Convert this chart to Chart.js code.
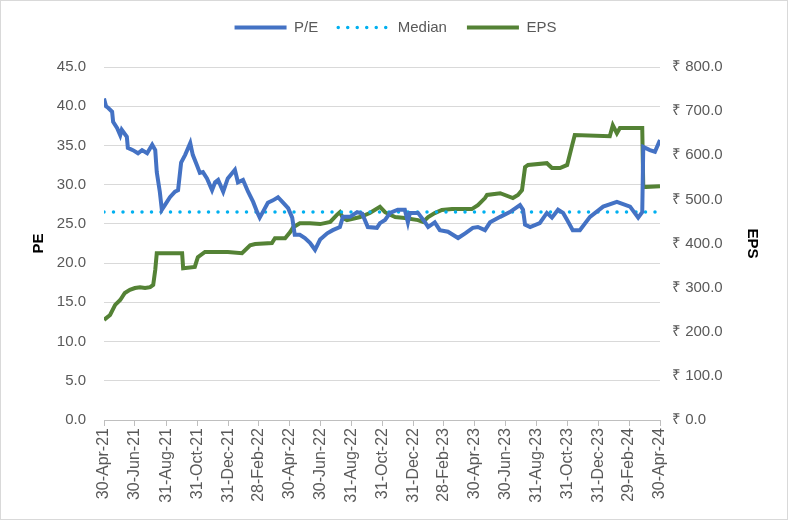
<!DOCTYPE html>
<html>
<head>
<meta charset="utf-8">
<script src="https://cdn.jsdelivr.net/npm/chart.js@4.4.0/dist/chart.umd.min.js"></script>
<style>
  body { margin: 0; background: #fff; }
  #wrap { position: relative; width: 788px; height: 520px; }
  #frame { position: absolute; left: 0; top: 0; width: 788px; height: 520px; box-sizing: border-box; border: 1px solid #d9d9d9; pointer-events: none; }
</style>
</head>
<body>
<div id="wrap">
  <canvas id="myChart" width="788" height="520"></canvas>
  <div id="frame"></div>
</div>
<script>
// x tick labels (month ends, every 2 months)
const tickLabels = ['30-Apr-21', '30-Jun-21', '31-Aug-21', '31-Oct-21', '31-Dec-21', '28-Feb-22',
  '30-Apr-22', '30-Jun-22', '31-Aug-22', '31-Oct-22', '31-Dec-22', '28-Feb-23', '30-Apr-23',
  '30-Jun-23', '31-Aug-23', '31-Oct-23', '31-Dec-23', '29-Feb-24', '30-Apr-24']

// days since 30-Apr-21 for P/E readings
const peDays = [0, 4, 8, 16, 18, 26, 32, 35, 45, 47, 57, 67, 75, 85, 95, 101, 104, 110, 114, 120,
  130, 140, 146, 152, 160, 170, 175, 183, 189, 195, 203, 213, 219, 225, 235, 244, 258, 264, 274, 284,
  294, 302, 307, 313, 323, 333, 343, 353, 363, 371, 376, 386, 396, 406, 416, 426, 440, 451, 465, 471,
  485, 499, 509, 520, 538, 544, 554, 564, 579, 593, 599, 603, 619, 633, 639, 652, 662, 678, 698, 712,
  727, 737, 751, 761, 781, 800, 820, 826, 830, 840, 859, 873, 883, 895, 905, 913, 924, 938, 958, 984,
  1011, 1037, 1053, 1061, 1063, 1076, 1086, 1096]
const peValues = [41.0, 40.0, 39.8, 39.3, 38.0, 37.2, 36.3, 37.0, 36.1, 34.7, 34.4, 34.0, 34.4, 34.0, 35.1, 34.4, 31.6, 29.1, 26.8, 27.4,
  28.4, 29.1, 29.3, 32.8, 33.8, 35.3, 33.8, 32.5, 31.5, 31.6, 30.8, 29.3, 30.3, 30.6, 29.1, 30.8, 31.9, 30.3, 30.6, 29.1,
  27.8, 26.5, 25.8, 26.5, 27.7, 28.0, 28.4, 27.7, 27.0, 25.8, 23.6, 23.6, 23.2, 22.6, 21.7, 23.0, 23.8, 24.2, 24.6, 25.9,
  25.9, 26.5, 26.3, 24.6, 24.5, 25.1, 25.5, 26.4, 26.8, 26.8, 25.2, 26.4, 26.4, 25.2, 24.6, 25.2, 24.2, 24.0, 23.2, 23.8,
  24.5, 24.6, 24.2, 25.2, 25.9, 26.5, 27.4, 26.8, 24.9, 24.6, 25.1, 26.4, 25.8, 26.8, 26.4, 25.5, 24.2, 24.2, 25.9, 27.2,
  27.8, 27.2, 25.8, 26.5, 34.8, 34.4, 34.2, 35.7]

const medianPE = 26.5

// days since 30-Apr-21 for EPS readings
const epsDays = [0, 12, 22, 32, 41, 51, 61, 71, 81, 91, 97, 101, 104, 154, 156, 179, 185, 199, 244, 272,
  288, 298, 331, 337, 357, 367, 373, 386, 406, 426, 446, 459, 465, 471, 479, 505, 524, 544, 554, 564,
  574, 593, 619, 629, 639, 652, 666, 686, 725, 737, 751, 755, 781, 806, 816, 824, 830, 836, 873, 883,
  899, 913, 922, 928, 997, 1003, 1011, 1017, 1061, 1063, 1096]
const epsValues = [227, 238, 261, 272, 288, 295, 299, 301, 299, 301, 306, 340, 378, 378, 344, 347, 369, 381, 381, 378,
  396, 399, 401, 412, 412, 426, 437, 446, 446, 444, 449, 465, 471, 458, 453, 460, 469, 483, 471, 465,
  460, 458, 453, 449, 460, 469, 476, 478, 478, 487, 503, 510, 514, 503, 510, 521, 573, 578, 582, 571,
  571, 578, 619, 646, 643, 668, 650, 662, 662, 528, 530]

const months = {Jan: 0, Feb: 1, Mar: 2, Apr: 3, May: 4, Jun: 5, Jul: 6, Aug: 7, Sep: 8, Oct: 9, Nov: 10, Dec: 11}
function toDay(label) {
    const p = label.split('-')
    const t = Date.UTC(2000 + Number(p[2]), months[p[1]], Number(p[0]))
    return Math.round((t - Date.UTC(2021, 3, 30)) / 86400000)
}
const tickDays = tickLabels.map(toDay)
const lastDay = tickDays[tickDays.length - 1]

const font = 'Liberation Sans, Arial, sans-serif'
const grey = '#595959'

let ctx = document.getElementById('myChart').getContext('2d')

const lineChart = new Chart(ctx, {
    type: 'line',
    data: {
        datasets: [{
            label: 'P/E',
            data: peDays.map((d, i) => ({x: d, y: peValues[i]})),
            borderColor: '#4472C4',
            backgroundColor: '#4472C4',
            borderWidth: 4,
            pointRadius: 0,
            yAxisID: 'y'
        }, {
            label: 'Median',
            data: [{x: 0, y: medianPE}, {x: lastDay, y: medianPE}],
            borderColor: '#00B0F0',
            backgroundColor: '#00B0F0',
            borderWidth: 3.5,
            borderDash: [0, 9.5],
            borderCapStyle: 'round',
            pointRadius: 0,
            yAxisID: 'y'
        }, {
            label: 'EPS',
            data: epsDays.map((d, i) => ({x: d, y: epsValues[i]})),
            borderColor: '#548235',
            backgroundColor: '#548235',
            borderWidth: 4,
            pointRadius: 0,
            yAxisID: 'y1'
        }]
    },
    options: {
        responsive: false,
        animation: false,
        layout: {padding: {left: 26, right: 23, top: 0, bottom: 0}},
        scales: {
            x: {
                type: 'linear',
                min: 0,
                max: lastDay,
                afterBuildTicks: s => { s.ticks = tickDays.map(v => ({value: v})) },
                afterFit: s => { s.height = 100 },
                ticks: {
                    autoSkip: false,
                    minRotation: 90,
                    maxRotation: 90,
                    padding: 2,
                    color: grey,
                    font: {family: font, size: 16},
                    callback: v => tickLabels[tickDays.indexOf(v)]
                },
                grid: {drawOnChartArea: false, drawTicks: true, tickLength: 6, color: '#BFBFBF'},
                border: {display: true, color: '#BFBFBF'}
            },
            // empty top axis, only there to leave a gap under the legend
            gap: {
                type: 'linear',
                position: 'top',
                min: 0,
                max: 1,
                afterFit: s => { s.height = 22 },
                ticks: {display: false},
                grid: {display: false},
                border: {display: false}
            },
            y: {
                position: 'left',
                min: 0,
                max: 45,
                afterFit: s => { s.width = 78 },
                ticks: {
                    stepSize: 5,
                    padding: 18,
                    color: grey,
                    font: {family: font, size: 15},
                    callback: v => v.toFixed(1)
                },
                grid: {color: '#D9D9D9', drawTicks: false},
                border: {display: false},
                title: {display: true, text: 'PE', color: '#000', font: {family: font, size: 15, weight: 'bold'}}
            },
            y1: {
                position: 'right',
                min: 0,
                max: 800,
                afterFit: s => { s.width = 105 },
                ticks: {
                    stepSize: 100,
                    padding: 12,
                    color: grey,
                    font: {family: font, size: 15},
                    callback: v => '₹ ' + v.toFixed(1)
                },
                grid: {drawOnChartArea: false, drawTicks: false},
                border: {display: false},
                title: {display: true, text: 'EPS', color: '#000', font: {family: font, size: 15, weight: 'bold'}}
            }
        },
        plugins: {
            legend: {
                display: true,
                position: 'top',
                labels: {
                    usePointStyle: true,
                    pointStyle: 'line',
                    pointStyleWidth: 52,
                    padding: 20,
                    color: grey,
                    font: {family: font, size: 15},
                    // keep dotted style of the median in the legend
                    generateLabels: chart => {
                        const items = Chart.defaults.plugins.legend.labels.generateLabels(chart)
                        items.forEach(it => {
                            const ds = chart.data.datasets[it.datasetIndex]
                            it.lineDash = ds.borderDash || []
                            it.lineCap = ds.borderCapStyle || 'butt'
                            it.lineWidth = ds.borderWidth
                            it.strokeStyle = ds.borderColor
                            it.pointStyle = 'line'
                        })
                        return items
                    }
                }
            },
            tooltip: {enabled: false}
        }
    }
})
</script>
</body>
</html>
